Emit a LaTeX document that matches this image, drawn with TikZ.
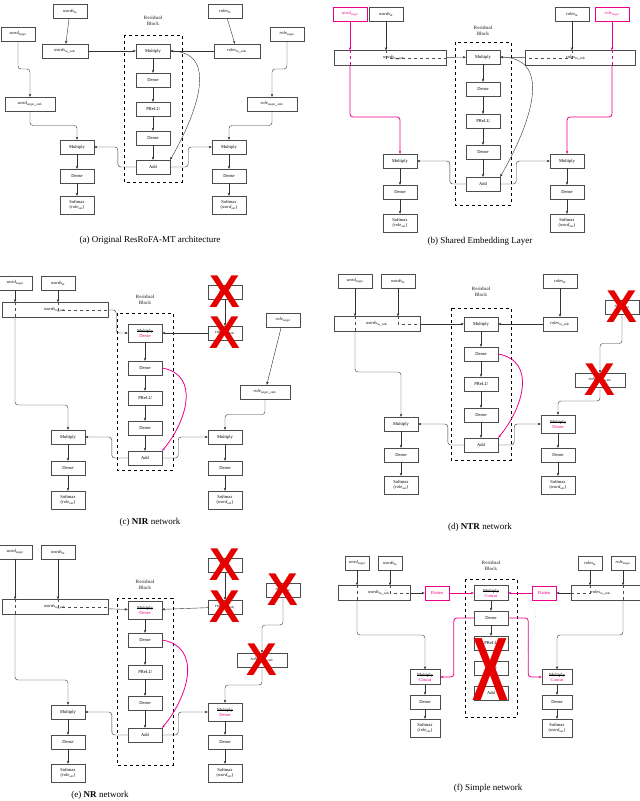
\documentclass[tikz,border=0pt]{standalone}
\usepackage{fontspec}
\setmainfont{Liberation Serif}
\newfontfamily\xfont{Liberation Sans}
\newsavebox\stbox
\newcommand\stk[1]{\sbox\stbox{#1}\rlap{\rule[0.5ex]{\wd\stbox}{0.3pt}}\usebox\stbox}
\usetikzlibrary{arrows.meta,calc}
\newcommand\wi{$\mathit{words}_{\mathrm{in}}$}
\newcommand\ri{$\mathit{roles}_{\mathrm{in}}$}
\newcommand\wt{$\mathit{word}_{\mathrm{target}}$}
\newcommand\rt{$\mathit{role}_{\mathrm{target}}$}
\newcommand\wie{$\mathit{words}_{\mathrm{in\_emb}}$}
\newcommand\rie{$\mathit{roles}_{\mathrm{in\_emb}}$}
\newcommand\wte{$\mathit{word}_{\mathrm{target\_emb}}$}
\newcommand\rte{$\mathit{role}_{\mathrm{target\_emb}}$}
\newcommand\smr{Softmax\\($\mathit{role}_{\mathrm{out}}$)}
\newcommand\smw{Softmax\\($\mathit{word}_{\mathrm{out}}$)}
\newcommand\md{\stk{Multiply}\\\textcolor{magenta}{Dense}}
\newcommand\mc{\stk{Multiply}\\\textcolor{magenta}{Concat}}
\newcommand\redx[3]{\node[text=red!90!black,font=\xfont\bfseries\fontsize{46}{46}\selectfont,inner sep=0,yscale=#3] at (#1,#2) {X};}
\newcommand\zz[3]{\draw[#3] (#1.south) |- ($(#1.south)!0.5!(#2.north)$) -| (#2.north);}
\tikzset{x=1pt,y=-1pt,
 bx/.style={draw=black!70,minimum width=34,minimum height=14,inner sep=1,align=center,font=\fontsize{4.5}{5}\selectfont},
 mb/.style={bx,draw=magenta,text=magenta,thick},
 bar/.style={bx,minimum height=15},
 ar/.style={-{Stealth[length=3pt,width=2.5pt]},black!80,rounded corners=3},
 mar/.style={ar,magenta,thick},
 rb/.style={draw,dashed,thick},
 rl/.style={font=\fontsize{5}{5.5}\selectfont\bfseries,text=black!60,align=center},
 capt/.style={font=\fontsize{9}{10}\selectfont}}
\begin{document}
\begin{tikzpicture}
\useasboundingbox[fill=white] (0,0) rectangle (640,801);
% ================= (a)
\node[bx] (awi) at (70,11) {\wi};
\node[bx] (ari) at (225,11) {\ri};
\node[bx] (awt) at (18,34) {\wt};
\node[bx] (art) at (287,34) {\rt};
\node[bx,minimum width=46] (awie) at (65,51) {\wie};
\node[bx,minimum width=46] (arie) at (237,51) {\rie};
\node[bx] (aM) at (153,51) {Multiply};
\node[bx] (aD1) at (153,80) {Dense};
\node[bx] (aP) at (153,109) {PReLU};
\node[bx] (aD2) at (153,138) {Dense};
\node[bx] (aA) at (153,167) {Add};
\node[bx,minimum width=50] (awte) at (30,104) {\wte};
\node[bx,minimum width=50] (arte) at (272,104) {\rte};
\node[bx] (aML) at (77,147) {Multiply};
\node[bx] (aDL) at (77,176) {Dense};
\node[bx,minimum height=18] (aSL) at (77,205) {\smr};
\node[bx] (aMR) at (229,147) {Multiply};
\node[bx] (aDR) at (229,176) {Dense};
\node[bx,minimum height=18] (aSR) at (229,205) {\smw};
\draw[rb] (124,35) rectangle (182,182);
\node[rl] (arl) at (153,21) {Residual\\Block};
\draw[ar] (awi) -- (awie); \draw[ar] (ari) -- (arie);
\zz{awt}{awte}{ar} \zz{art}{arte}{ar}
\draw[ar] (awie) -- (aM); \draw[ar] (arie) -- (aM);
\draw[ar] (aM) -- (aD1); \draw[ar] (aD1) -- (aP); \draw[ar] (aP) -- (aD2); \draw[ar] (aD2) -- (aA);
\draw[ar] (aM.east) to[out=0,in=60,looseness=1.2] (aA.north east);
\zz{awte}{aML}{ar} \zz{arte}{aMR}{ar}
\draw[ar] (aA.west) -- ++(-18,0) |- (aML.east);
\draw[ar] (aA.east) -- ++(18,0) |- (aMR.west);
\draw[ar] (aML) -- (aDL); \draw[ar] (aDL) -- (aSL);
\draw[ar] (aMR) -- (aDR); \draw[ar] (aDR) -- (aSR);
\node[capt] at (150,240) {(a) Original ResRoFA-MT architecture};
% ================= (b)
\node[mb] (bwt) at (350,14) {\wt};
\node[bx] (bwi) at (386,14) {\wi};
\node[bar,minimum width=112] (bwb) at (390,58) {\hspace{8pt}\wie};
\node[bx] (bri) at (572,14) {\ri};
\node[mb] (brt) at (612,14) {\rt};
\node[bar,minimum width=110] (brb) at (580,58) {\hspace{-8pt}\rie};
\node[bx] (bM) at (483,57) {Multiply};
\node[bx] (bD1) at (483,89) {Dense};
\node[bx] (bP) at (483,121) {PReLU};
\node[bx] (bD2) at (483,152) {Dense};
\node[bx] (bA) at (483,184) {Add};
\node[bx] (bML) at (400,161) {Multiply};
\node[bx] (bDL) at (400,192) {Dense};
\node[bx,minimum height=18] (bSL) at (400,223) {\smr};
\node[bx] (bMR) at (567,161) {Multiply};
\node[bx] (bDR) at (567,192) {Dense};
\node[bx,minimum height=18] (bSR) at (567,223) {\smw};
\draw[rb] (455,42) rectangle (511,205);
\node[rl] (brl) at (483,31) {Residual\\Block};
\draw[ar] (bwi) -- (bwi|-bwb.north);
\draw[dashed,black!70] (bwi|-bwb.north) |- (bwb.east);
\draw[ar] (bri) -- (bri|-brb.north);
\draw[dashed,black!70] (bri|-brb.north) |- (brb.west);
\draw[ar] (bwb) -- (bM); \draw[ar] (brb) -- (bM);
\draw[mar] (bwt) -- (bwt|-bwb.north);
\draw[dashed,magenta] (bwt|-bwb.north) -- (bwt|-bwb.south);
\draw[mar] (bwt|-bwb.south) |- (380,117) -| (bML.north);
\draw[mar] (brt) -- (brt|-brb.north);
\draw[dashed,magenta] (brt|-brb.north) -- (brt|-brb.south);
\draw[mar] (brt|-brb.south) |- (580,117) -| (bMR.north);
\draw[ar] (bM) -- (bD1); \draw[ar] (bD1) -- (bP); \draw[ar] (bP) -- (bD2); \draw[ar] (bD2) -- (bA);
\draw[ar] (bM.east) to[out=0,in=60,looseness=1.2] (bA.north east);
\draw[ar] (bA.west) -- ++(-16,0) |- (bML.east);
\draw[ar] (bA.east) -- ++(16,0) |- (bMR.west);
\draw[ar] (bML) -- (bDL); \draw[ar] (bDL) -- (bSL);
\draw[ar] (bMR) -- (bDR); \draw[ar] (bDR) -- (bSR);
\node[capt] at (480,241) {(b) Shared Embedding Layer};
% ================= (c)
\node[bx] (cwt) at (15,283) {\wt};
\node[bx] (cwi) at (58,283) {\wi};
\node[bar,minimum width=106] (cwb) at (55,310) {\wie};
\node[bx,minimum height=18] (cM) at (145,333) {\md};
\node[bx] (cD1) at (145,368) {Dense};
\node[bx] (cP) at (145,398) {PReLU};
\node[bx] (cD2) at (145,428) {Dense};
\node[bx] (cA) at (145,458) {Add};
\node[bx] (cri) at (225,292) {\ri};
\node[bx] (crie) at (225,333) {\rie};
\node[bx] (crt) at (283,320) {\rt};
\node[bx,minimum width=50] (crte) at (265,392) {\rte};
\node[bx] (cML) at (68,437) {Multiply};
\node[bx] (cDL) at (68,468) {Dense};
\node[bx,minimum height=18] (cSL) at (68,500) {\smr};
\node[bx] (cMR) at (225,437) {Multiply};
\node[bx] (cDR) at (225,468) {Dense};
\node[bx,minimum height=18] (cSR) at (225,500) {\smw};
\draw[rb] (117,313) rectangle (173,470);
\node[rl] (crl) at (145,300) {Residual\\Block};
\draw[ar] (cwt) -- (cwt|-cwb.north); \draw[dashed,black!70] (cwt|-cwb.north) -- (cwt|-cwb.south);
\draw[ar] (cwi) -- (cwi|-cwb.north); \draw[dashed,black!70] (cwi|-cwb.north) |- (cwb.east);
\draw[ar] (cwb.east) -- ++(8,0) |- (cM.west);
\draw[ar] (cri) -- (crie); \draw[ar] (crie) -- (cM);
\draw[ar] (cwt|-cwb.south) |- (50,405) -| (cML.north);
\draw[ar] (crt) -- (crte);
\zz{crte}{cMR}{ar}
\draw[ar] (cM) -- (cD1); \draw[ar] (cD1) -- (cP); \draw[ar] (cP) -- (cD2); \draw[ar] (cD2) -- (cA);
\draw[mar] (cD1.east) to[out=-10,in=50,looseness=1.2] (cA.north east);
\draw[ar] (cA.west) -- ++(-16,0) |- (cML.east);
\draw[ar] (cA.east) -- ++(16,0) |- (cMR.west);
\draw[ar] (cML) -- (cDL); \draw[ar] (cDL) -- (cSL);
\draw[ar] (cMR) -- (cDR); \draw[ar] (cDR) -- (cSR);
\redx{225}{292}{1.0} \redx{225}{333}{1.0}
\node[capt] at (150,522) {(c) \textbf{NIR} network};
% ================= (d)
\node[bx] (dwt) at (355,281) {\wt};
\node[bx] (dwi) at (398,281) {\wi};
\node[bar,minimum width=86] (dwb) at (377,324) {\wie};
\node[bx] (dM) at (481,324) {Multiply};
\node[bx] (dD1) at (481,354) {Dense};
\node[bx] (dP) at (481,384) {PReLU};
\node[bx] (dD2) at (481,415) {Dense};
\node[bx] (dA) at (481,445) {Add};
\node[bx] (dri) at (560,281) {\ri};
\node[bx] (drie) at (560,324) {\rie};
\node[bx] (drt) at (622,307) {\rt};
\node[bx,minimum width=50] (drte) at (600,380) {\rte};
\node[bx] (dML) at (401,424) {Multiply};
\node[bx] (dDL) at (401,455) {Dense};
\node[bx,minimum height=18] (dSL) at (401,485) {\smr};
\node[bx,minimum height=18] (dMR) at (558,424) {\md};
\node[bx] (dDR) at (558,455) {Dense};
\node[bx,minimum height=18] (dSR) at (558,485) {\smw};
\draw[rb] (451,308) rectangle (511,460);
\node[rl] (drl) at (481,292) {Residual\\Block};
\draw[ar] (dwt) -- (dwt|-dwb.north); \draw[dashed,black!70] (dwt|-dwb.north) -- (dwt|-dwb.south);
\draw[ar] (dwi) -- (dwi|-dwb.north); \draw[dashed,black!70] (dwi|-dwb.north) |- (dwb.east);
\draw[ar] (dwb) -- (dM); \draw[ar] (dri) -- (drie); \draw[ar] (drie) -- (dM);
\draw[ar] (dwt|-dwb.south) |- (380,372) -| (dML.north);
\zz{drt}{drte}{ar} \zz{drte}{dMR}{ar}
\draw[ar] (dM) -- (dD1); \draw[ar] (dD1) -- (dP); \draw[ar] (dP) -- (dD2); \draw[ar] (dD2) -- (dA);
\draw[mar] (dD1.east) to[out=-10,in=50,looseness=1.2] (dA.north east);
\draw[ar] (dA.west) -- ++(-16,0) |- (dML.east);
\draw[ar] (dA.east) -- ++(16,0) |- (dMR.west);
\draw[ar] (dML) -- (dDL); \draw[ar] (dDL) -- (dSL);
\draw[ar] (dMR) -- (dDR); \draw[ar] (dDR) -- (dSR);
\redx{622}{307}{1.0} \redx{600}{380}{1.0}
\node[capt] at (480,527) {(d) \textbf{NTR} network};
% ================= (e)
\node[bx] (ewt) at (15,552) {\wt};
\node[bx] (ewi) at (58,552) {\wi};
\node[bar,minimum width=106] (ewb) at (55,607) {\wie};
\node[bx,minimum height=18] (eM) at (145,610) {\md};
\node[bx] (eD1) at (145,640) {Dense};
\node[bx] (eP) at (145,672) {PReLU};
\node[bx] (eD2) at (145,703) {Dense};
\node[bx] (eA) at (145,735) {Add};
\node[bx] (eri) at (225,565) {\ri};
\node[bx] (erie) at (225,607) {\rie};
\node[bx] (ert) at (283,590) {\rt};
\node[bx,minimum width=50] (erte) at (262,660) {\rte};
\node[bx] (eML) at (68,712) {Multiply};
\node[bx] (eDL) at (68,742) {Dense};
\node[bx,minimum height=18] (eSL) at (68,773) {\smr};
\node[bx,minimum height=18] (eMR) at (225,712) {\md};
\node[bx] (eDR) at (225,742) {Dense};
\node[bx,minimum height=18] (eSR) at (225,773) {\smw};
\draw[rb] (117,598) rectangle (173,765);
\node[rl] (erl) at (145,585) {Residual\\Block};
\draw[ar] (ewt) -- (ewt|-ewb.north); \draw[dashed,black!70] (ewt|-ewb.north) -- (ewt|-ewb.south);
\draw[ar] (ewi) -- (ewi|-ewb.north); \draw[dashed,black!70] (ewi|-ewb.north) |- (ewb.east);
\draw[ar] (ewb) -- (eM); \draw[ar] (eri) -- (erie); \draw[ar] (erie) -- (eM);
\draw[ar] (ewt|-ewb.south) |- (50,680) -| (eML.north);
\zz{ert}{erte}{ar} \zz{erte}{eMR}{ar}
\draw[ar] (eM) -- (eD1); \draw[ar] (eD1) -- (eP); \draw[ar] (eP) -- (eD2); \draw[ar] (eD2) -- (eA);
\draw[mar] (eD1.east) to[out=-10,in=50,looseness=1.2] (eA.north east);
\draw[ar] (eA.west) -- ++(-16,0) |- (eML.east);
\draw[ar] (eA.east) -- ++(16,0) |- (eMR.west);
\draw[ar] (eML) -- (eDL); \draw[ar] (eDL) -- (eSL);
\draw[ar] (eMR) -- (eDR); \draw[ar] (eDR) -- (eSR);
\redx{225}{565}{1.0} \redx{225}{607}{1.0} \redx{283}{590}{1.0} \redx{262}{660}{1.0}
\node[capt] at (100,795) {(e) \textbf{NR} network};
% ================= (f)
\node[bx,minimum width=24] (fwt) at (357,563) {\wt};
\node[bx,minimum width=24] (fwi) at (390,563) {\wi};
\node[bar,minimum width=72] (fwb) at (374,593) {\hspace{10pt}\wie};
\node[mb,minimum width=24] (fF1) at (437,593) {Flatten};
\node[bx,minimum height=15] (fM) at (491,593) {\mc};
\node[bx] (fD1) at (491,618) {Dense};
\node[bx] (fx1) at (491,643) {PReLU};
\node[bx] (fx2) at (491,668) {Dense};
\node[bx] (fx3) at (491,693) {Add};
\node[mb,minimum width=24] (fF2) at (544,593) {Flatten};
\node[bar,minimum width=70] (frb) at (606,593) {\hspace{-10pt}\rie};
\node[bx,minimum width=24] (fri) at (590,563) {\ri};
\node[bx,minimum width=24] (frt) at (623,563) {\rt};
\node[bx,minimum width=30,minimum height=15] (fML) at (425,677) {\mc};
\node[bx,minimum width=30] (fDL) at (425,702) {Dense};
\node[bx,minimum width=30,minimum height=18] (fSL) at (425,728) {\smr};
\node[bx,minimum width=30,minimum height=15] (fMR) at (557,677) {\mc};
\node[bx,minimum width=30] (fDR) at (557,702) {Dense};
\node[bx,minimum width=30,minimum height=18] (fSR) at (557,728) {\smw};
\draw[rb] (465,579) rectangle (517,717);
\node[rl] (frl) at (491,566) {Residual\\Block};
\draw[ar] (fwt) -- (fwt|-fwb.north); \draw[dashed,black!70] (fwt|-fwb.north) -- (fwt|-fwb.south);
\draw[ar] (fwi) -- (fwi|-fwb.north); \draw[dashed,black!70] (fwi|-fwb.north) |- (fwb.east);
\draw[ar] (fri) -- (fri|-frb.north); \draw[dashed,black!70] (fri|-frb.north) |- (frb.west);
\draw[ar] (frt) -- (frt|-frb.north); \draw[dashed,black!70] (frt|-frb.north) -- (frt|-frb.south);
\draw[ar] (fwb) -- (fF1); \draw[ar] (frb) -- (fF2);
\draw[mar] (fF1) -- (fM); \draw[mar] (fF2) -- (fM);
\draw[ar] (fwt|-fwb.south) |- (400,635) -| (fML.north);
\draw[ar] (frt|-frb.south) |- (580,635) -| (fMR.north);
\draw[ar] (fM) -- (fD1); \draw[ar] (fD1) -- (fx1);
\draw[dotted,black!40] (fM.east) to[out=0,in=60,looseness=1.3] (fx3.north east);
\draw[mar] (fD1.west) -- ++(-20,0) |- (fML.east);
\draw[mar] (fD1.east) -- ++(20,0) |- (fMR.west);
\draw[ar] (fML) -- (fDL); \draw[ar] (fDL) -- (fSL);
\draw[ar] (fMR) -- (fDR); \draw[ar] (fDR) -- (fSR);
\node[text=red!90!black,font=\xfont\bfseries\fontsize{60}{60}\selectfont,inner sep=0,xscale=0.9,yscale=1.5] at (491,670) {X};
\node[capt] at (488,788) {(f) Simple network};
\end{tikzpicture}
\end{document}
